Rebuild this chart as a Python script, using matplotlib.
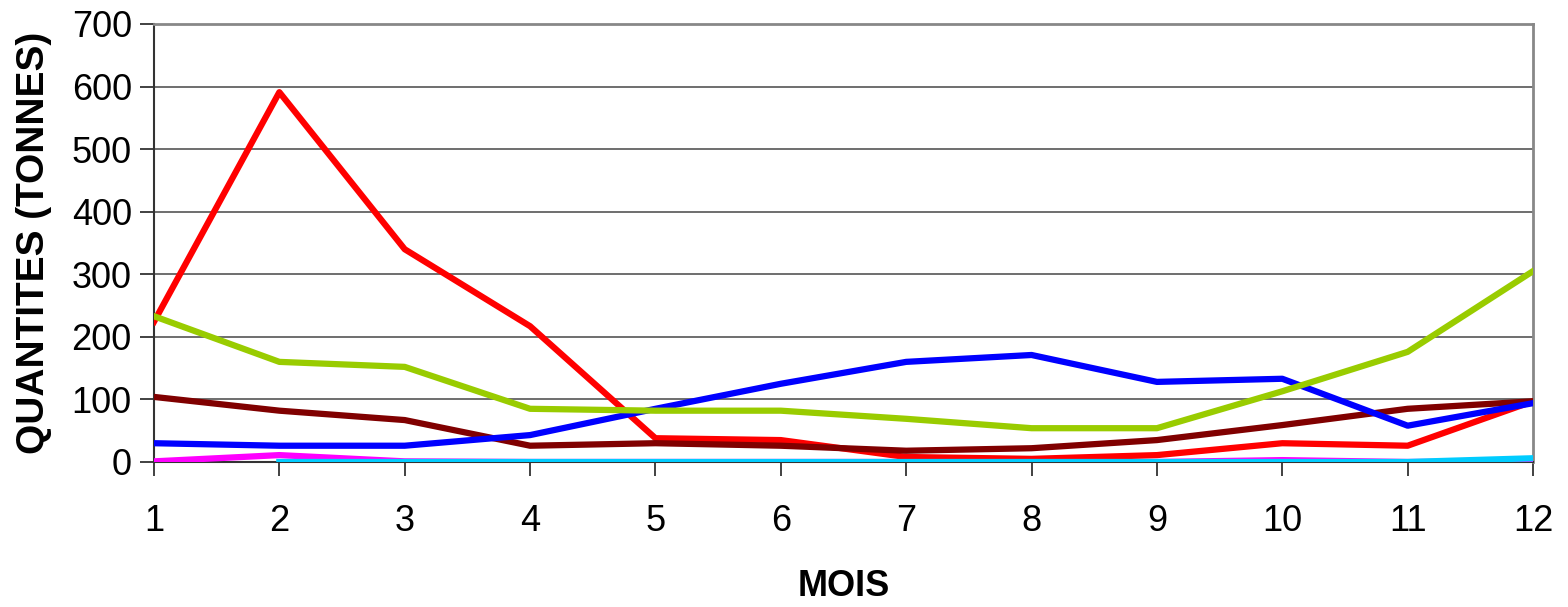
import matplotlib
matplotlib.use('Agg')
import matplotlib.pyplot as plt

plt.rcParams['font.family'] = ['Liberation Sans', 'DejaVu Sans']

mois = list(range(1, 13))

rouge = [224, 591, 340, 217, 38, 35, 8, 5, 11, 30, 26, 97]
vert = [233, 160, 152, 85, 82, 82, 69, 54, 54, 113, 176, 305]
bordeaux = [104, 82, 67, 26, 30, 26, 18, 22, 35, 59, 85, 97]
bleu = [30, 26, 26, 43, 85, 125, 160, 171, 128, 133, 58, 94]
magenta = [1, 11, 1, 0, 0, 0, 0, 0, 0, 3, 0, 1]
mois_cyan = list(range(2, 13))
cyan = [0, 0, 0, 0, 0, 0, 0, 0, 0, 0, 6]

fig = plt.figure(figsize=(15.68, 6.07), dpi=100)
ax = fig.add_axes([0.0982, 0.2389, 0.8795, 0.7216])

lw = 4.5
ax.plot(mois, magenta, color='#ff00ff', lw=lw, zorder=3)
ax.plot(mois, rouge, color='#ff0000', lw=lw, zorder=3)
ax.plot(mois, bordeaux, color='#800000', lw=lw, zorder=4)
ax.plot(mois, bleu, color='#0000ff', lw=lw, zorder=5)
ax.plot(mois, vert, color='#99cc00', lw=lw, zorder=6)
ax.plot(mois_cyan, cyan, color='#00ccff', lw=lw, zorder=7)

ax.set_xlim(1, 12)
ax.set_ylim(0, 700)
ax.set_xticks(mois)
ax.set_yticks(range(0, 701, 100))
ax.yaxis.grid(True, color='#555555', lw=1.2)
ax.set_axisbelow(True)

for s in ['top', 'right']:
    ax.spines[s].set_color('#888888')
    ax.spines[s].set_linewidth(2)
for s in ['left', 'bottom']:
    ax.spines[s].set_color('#333333')
    ax.spines[s].set_linewidth(1.5)

ax.tick_params(axis='both', direction='out', length=10, width=1.3, color='#333333',
               labelsize=26, pad=6)
ax.tick_params(axis='x', pad=20)

ax.set_xlabel('MOIS', fontsize=26, fontweight='bold', labelpad=22)
ax.set_ylabel('QUANTITES (TONNES)', fontsize=28, fontweight='bold', labelpad=14)

fig.savefig('out.png', dpi=100)
